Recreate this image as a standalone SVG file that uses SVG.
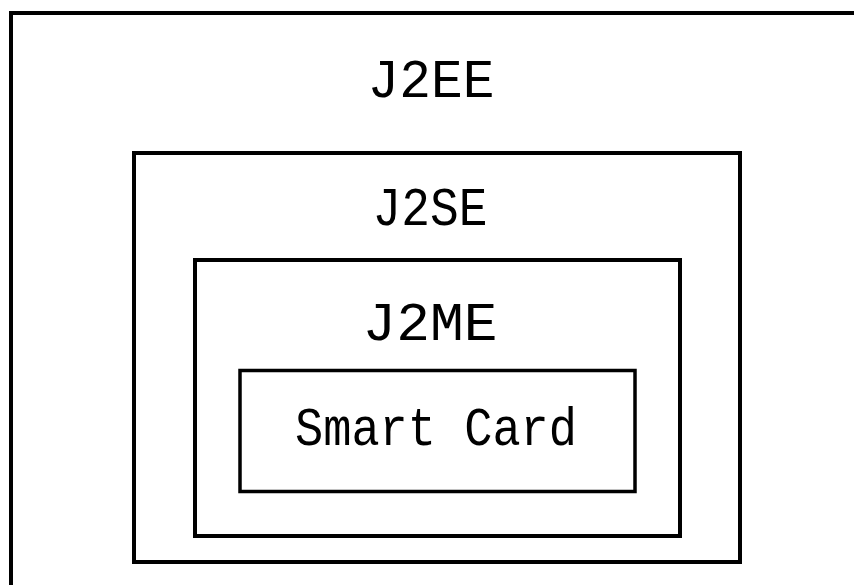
<svg xmlns="http://www.w3.org/2000/svg" width="854" height="585" viewBox="0 0 854 585">
<style>
.box{fill:none;stroke:#000;stroke-width:4}
.lbl{font-family:"Liberation Mono","DejaVu Sans Mono",monospace;font-size:54px;fill:#000;text-anchor:middle}
</style>
<rect width="854" height="585" fill="#fff"/>
<g id="j2ee">
<rect class="box" x="11" y="13" width="860" height="600"/>
<text class="lbl" x="431" y="97" textLength="127" lengthAdjust="spacingAndGlyphs">J2EE</text>
</g>
<g id="j2se">
<rect class="box" x="134" y="153" width="606" height="409"/>
<text class="lbl" x="430" y="225" textLength="115" lengthAdjust="spacingAndGlyphs">J2SE</text>
</g>
<g id="j2me">
<rect class="box" x="195" y="260" width="485" height="276"/>
<text class="lbl" x="430" y="340" textLength="135" lengthAdjust="spacingAndGlyphs">J2ME</text>
</g>
<g id="smartcard">
<rect class="box" x="240" y="370.5" width="395" height="121" style="stroke-width:3.5"/>
<text class="lbl" x="436" y="445" textLength="282" lengthAdjust="spacingAndGlyphs">Smart Card</text>
</g>
<g id="connectors"/>
</svg>
